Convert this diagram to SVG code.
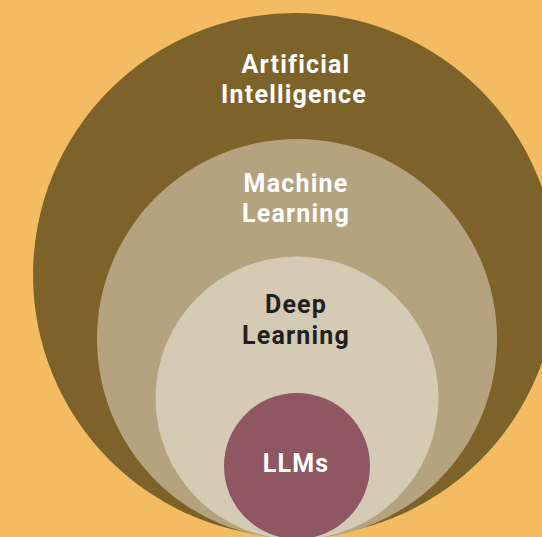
<svg xmlns="http://www.w3.org/2000/svg" width="542" height="537" viewBox="0 0 542 537">
<style>
.lbl{font-family:Roboto,"Liberation Sans",sans-serif;font-size:25px;font-weight:700;text-anchor:middle;letter-spacing:1.2px}
.w{fill:#ffffff}
.d{fill:#231f20}
</style>
<rect width="542" height="537" fill="#f4bc62"/>
<g id="ai"><circle cx="295" cy="275" r="262" fill="#7d6329"/>
<text class="lbl w" x="296" y="73">Artificial</text><text class="lbl w" x="294" y="103">Intelligence</text></g>
<g id="ml"><circle cx="297" cy="339" r="200" fill="#b5a37f"/>
<text class="lbl w" x="296" y="192">Machine</text><text class="lbl w" x="296" y="222">Learning</text></g>
<g id="dl"><circle cx="297" cy="398" r="141.5" fill="#d5cab4"/>
<text class="lbl d" x="296" y="313">Deep</text><text class="lbl d" x="296" y="344">Learning</text></g>
<g id="llm"><circle cx="297" cy="466" r="73" fill="#8e5762"/>
<text class="lbl w" x="296" y="472">LLMs</text></g>
<g id="connectors"/>
</svg>
